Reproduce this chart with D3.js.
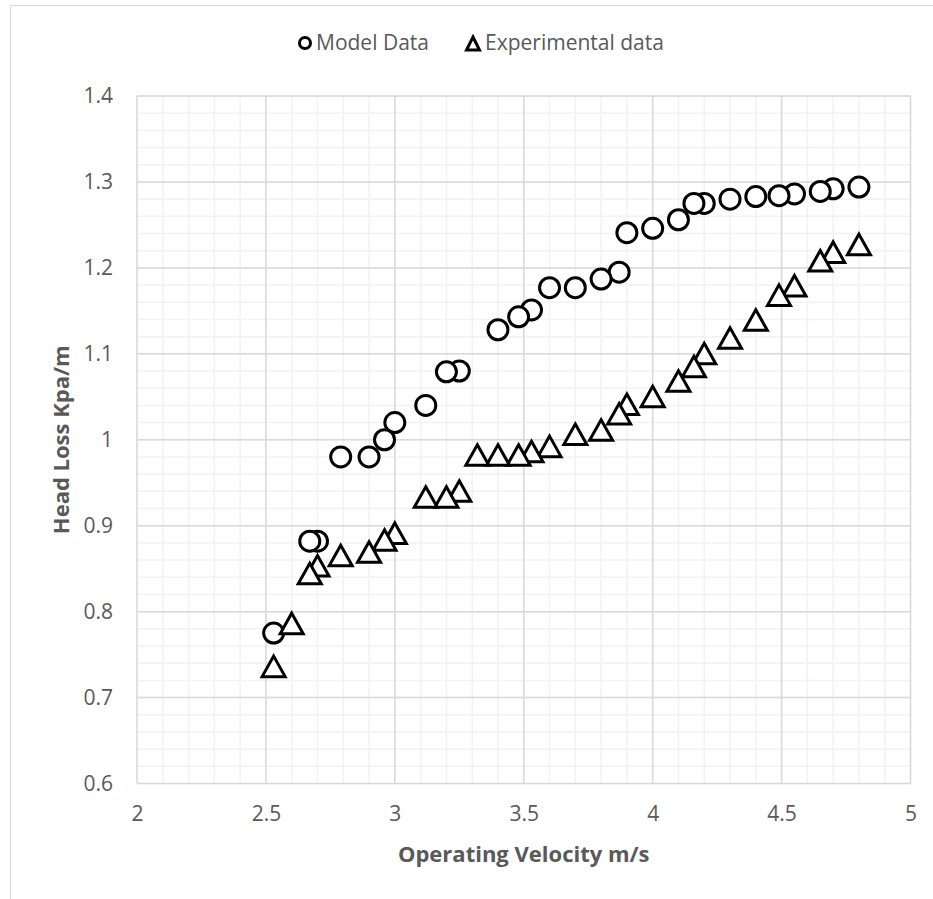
<!DOCTYPE html>
<html>
<head>
<meta charset="utf-8">
<script src="https://cdn.jsdelivr.net/npm/d3@7"></script>
<style>
  body { margin: 0; background: #fff; }
  svg { display: block; font-family: "Open Sans", sans-serif; }
</style>
</head>
<body>
<svg id="chart" width="933" height="899"></svg>
<script>
// Model data (circles)
var modelV = [2.53, 2.67, 2.70, 2.79, 2.90, 2.96, 3.00, 3.12, 3.20, 3.25, 3.40, 3.48, 3.53, 3.60, 3.70,
  3.80, 3.87, 3.90, 4.00, 4.10, 4.16, 4.20, 4.30, 4.40, 4.49, 4.55, 4.65, 4.70, 4.80];
var modelHL = [0.775, 0.882, 0.882, 0.980, 0.980, 1.000, 1.020, 1.040, 1.079, 1.080, 1.128, 1.143, 1.151, 1.177, 1.177,
  1.187, 1.195, 1.241, 1.246, 1.256, 1.275, 1.275, 1.280, 1.283, 1.284, 1.286, 1.289, 1.292, 1.294];

// Experimental data (triangles)
var expV = [2.53, 2.60, 2.67, 2.70, 2.79, 2.90, 2.96, 3.00, 3.12, 3.20, 3.25, 3.32, 3.40, 3.48, 3.53, 3.60,
  3.70, 3.80, 3.87, 3.90, 4.00, 4.10, 4.16, 4.20, 4.30, 4.40, 4.49, 4.55, 4.65, 4.70, 4.80];
var expHL = [0.736, 0.786, 0.844, 0.853, 0.865, 0.869, 0.883, 0.891, 0.933, 0.933, 0.940, 0.982, 0.982, 0.982, 0.986, 0.992,
  1.006, 1.011, 1.030, 1.041, 1.050, 1.068, 1.085, 1.100, 1.118, 1.139, 1.168, 1.179, 1.208, 1.218, 1.227];

var xTicks = [2, 2.5, 3, 3.5, 4, 4.5, 5];
var yTicks = [0.6, 0.7, 0.8, 0.9, 1, 1.1, 1.2, 1.3, 1.4];
var seriesNames = ["Model Data", "Experimental data"];

var svg = d3.select("#chart");
var textColor = "#595959";

var x = d3.scaleLinear().domain([2, 5]).range([137, 910.5]);
var y = d3.scaleLinear().domain([0.6, 1.4]).range([783.5, 96]);

// outer chart border
svg.append("rect")
  .attr("x", 10.5).attr("y", 5.5)
  .attr("width", 1000).attr("height", 1000)
  .attr("fill", "none").attr("stroke", "#d9d9d9");

// minor grid
var grid = svg.append("g");
grid.selectAll(".mx").data(d3.range(0, 31).map(i => 2 + i * 0.1))
  .enter().append("line")
  .attr("x1", d => x(d)).attr("x2", d => x(d))
  .attr("y1", y(0.6)).attr("y2", y(1.4))
  .attr("stroke", "#f2f2f2").attr("stroke-width", 1.5);
grid.selectAll(".my").data(d3.range(0, 41).map(i => 0.6 + i * 0.02))
  .enter().append("line")
  .attr("y1", d => y(d)).attr("y2", d => y(d))
  .attr("x1", x(2)).attr("x2", x(5))
  .attr("stroke", "#f2f2f2").attr("stroke-width", 1.5);

// major grid
grid.selectAll(".Mx").data(xTicks)
  .enter().append("line")
  .attr("x1", d => x(d)).attr("x2", d => x(d))
  .attr("y1", y(0.6)).attr("y2", y(1.4))
  .attr("stroke", "#d9d9d9").attr("stroke-width", 1.5);
grid.selectAll(".My").data(yTicks)
  .enter().append("line")
  .attr("y1", d => y(d)).attr("y2", d => y(d))
  .attr("x1", x(2)).attr("x2", x(5))
  .attr("stroke", "#d9d9d9").attr("stroke-width", 1.5);

// axes
var xAxis = svg.append("g")
  .attr("transform", "translate(0," + y(0.6) + ")")
  .call(d3.axisBottom(x).tickValues(xTicks).tickFormat(d3.format("")).tickSize(0).tickPadding(23));
var yAxis = svg.append("g")
  .attr("transform", "translate(" + x(2) + ",0)")
  .call(d3.axisLeft(y).tickValues(yTicks).tickFormat(d3.format("")).tickSize(0).tickPadding(24));
[xAxis, yAxis].forEach(a => {
  a.select(".domain").remove();
  a.selectAll("text").attr("fill", textColor)
    .style("font-size", "21px").style("font-family", "'Open Sans', sans-serif");
});

// axis titles
svg.append("text")
  .attr("x", (x(2) + x(5)) / 2).attr("y", 862)
  .attr("text-anchor", "middle")
  .attr("fill", textColor)
  .style("font-size", "22px").style("font-weight", "bold")
  .text("Operating Velocity m/s");
svg.append("text")
  .attr("transform", "translate(69," + (y(0.6) + y(1.4)) / 2 + ") rotate(-90)")
  .attr("text-anchor", "middle")
  .attr("fill", textColor)
  .style("font-size", "22px").style("font-weight", "bold")
  .text("Head Loss Kpa/m");

var triPath = "M0,-10.5L11.5,10L-11.5,10Z";

// markers (drawn from last point to first, like the original)
var modelPts = d3.range(modelV.length).reverse().map(i => [modelV[i], modelHL[i]]);
var expPts = d3.range(expV.length).reverse().map(i => [expV[i], expHL[i]]);

svg.append("g").selectAll("circle").data(modelPts)
  .enter().append("circle")
  .attr("cx", d => x(d[0])).attr("cy", d => y(d[1]))
  .attr("r", 10)
  .attr("fill", "#fff").attr("stroke", "#000").attr("stroke-width", 3);

svg.append("g").selectAll("path").data(expPts)
  .enter().append("path")
  .attr("d", triPath)
  .attr("transform", d => "translate(" + x(d[0]) + "," + y(d[1]) + ")")
  .attr("fill", "#fff").attr("stroke", "#000").attr("stroke-width", 3)
  .attr("stroke-linejoin", "miter");

// legend
var legend = svg.append("g");
legend.append("circle")
  .attr("cx", 305).attr("cy", 43).attr("r", 5.5)
  .attr("fill", "#fff").attr("stroke", "#000").attr("stroke-width", 3);
legend.append("text")
  .attr("x", 316).attr("y", 50)
  .attr("fill", textColor).style("font-size", "21px")
  .text(seriesNames[0]);
legend.append("path")
  .attr("d", "M0,-7L6.5,6L-6.5,6Z")
  .attr("transform", "translate(473,44)")
  .attr("fill", "#fff").attr("stroke", "#000").attr("stroke-width", 3);
legend.append("text")
  .attr("x", 485).attr("y", 50)
  .attr("fill", textColor).style("font-size", "21px")
  .text(seriesNames[1]);
</script>
</body>
</html>
